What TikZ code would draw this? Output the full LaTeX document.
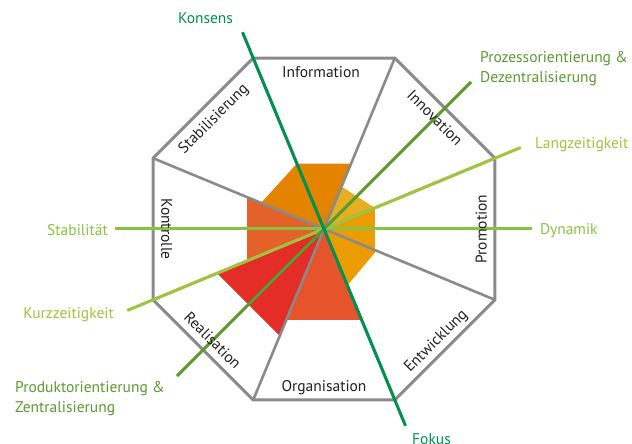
\documentclass[tikz,border=0pt]{standalone}
\usepackage{fontspec}
\setmainfont{PT Sans}
\definecolor{octgray}{HTML}{8A8A8D}
\definecolor{txtdark}{HTML}{231F20}
\definecolor{cInfo}{HTML}{E38300}
\definecolor{cInno}{HTML}{E6AF22}
\definecolor{cProm}{HTML}{EA9C00}
\definecolor{cOrg}{HTML}{E5542A}
\definecolor{cKont}{HTML}{E5612A}
\definecolor{cReal}{HTML}{E32D26}
\definecolor{gDark}{HTML}{00924C}
\definecolor{gMid}{HTML}{5A9A2F}
\definecolor{gLight}{HTML}{86C440}
\definecolor{gYel}{HTML}{A0C43C}
\begin{document}
\begin{tikzpicture}[x=1pt,y=1pt,
  edge/.style={draw=octgray, line width=3pt, line join=miter},
  spoke/.style={draw=octgray, line width=2.6pt},
  axis/.style={line width=3pt},
  sec/.style={font=\fontsize{15.5}{19.5}\selectfont, text=txtdark, inner sep=0pt, anchor=base},
  glab/.style={font=\fontsize{15.5}{19.5}\selectfont, inner sep=0pt},
]
\useasboundingbox (-324,-215) rectangle (308,229);
\def\R{185}
\coordinate (C) at (0,0);
\foreach \i in {0,...,7} \coordinate (v\i) at ({22.5+45*\i}:\R);
% sector fills
\fill[cInno] (C) -- (22.5:{0.298*\R}) -- (67.5:{0.248*\R}) -- cycle;
\fill[cInfo] (C) -- (67.5:{0.383*\R}) -- (112.5:{0.383*\R}) -- cycle;
\fill[cInfo] (C) -- (112.5:{0.383*\R}) -- (157.5:{0.368*\R}) -- cycle;
\fill[cKont] (C) -- (157.5:{0.45*\R}) -- (202.5:{0.45*\R}) -- cycle;
\fill[cReal] (C) -- (202.5:{0.625*\R}) -- (247.5:{0.625*\R}) -- cycle;
\fill[cOrg] (C) -- (247.5:{0.532*\R}) -- (292.5:{0.532*\R}) -- cycle;
\fill[cProm] (C) -- (292.5:{0.33*\R}) -- (337.5:{0.307*\R}) -- cycle;
\fill[cProm] (C) -- (337.5:{0.298*\R}) -- (22.5:{0.298*\R}) -- cycle;
% spokes and octagon
\foreach \i in {0,...,7} \draw[spoke] (C) -- (v\i);
\draw[edge] (v0) -- (v1) -- (v2) -- (v3) -- (v4) -- (v5) -- (v6) -- (v7) -- cycle;
% axes
\coordinate (stabE) at (180:209); \coordinate (dynE) at (0:208);
\coordinate (kurzE) at (202.5:213); \coordinate (langE) at (22.5:213);
\coordinate (prodE) at (225:208); \coordinate (prozE) at (45:208);
\coordinate (konE) at (112.5:213); \coordinate (fokE) at (292.5:213);
\draw[axis, gLight] (stabE) -- (dynE);
\draw[axis, gYel] (kurzE) -- (langE);
\draw[axis, gMid] (prodE) -- (prozE);
\draw[axis, gDark] (konE) -- (fokE);
% sector labels
\node[sec] (info) at (-3,151.7) {Information};
\node[sec, rotate=-45] (inno) at (45:151.7) {Innovation};
\node[sec, rotate=45] (stab) at (135:151.7) {Stabilisierung};
\node[sec, rotate=90] (prom) at (0:162.7) {Promotion};
\node[sec, rotate=45] (entw) at (-45:162.7) {Entwicklung};
\node[sec] (orga) at (-90:162.7) {Organisation};
\node[sec, rotate=-45] (real) at (-135:162.7) {Realisation};
\node[sec, rotate=-90] (kont) at (180:162.7) {Kontrolle};
% axis labels
\node[glab, text=gDark, anchor=base] (konsens) at (-118.5,205) {Konsens};
\node[glab, text=gDark, anchor=base west] (fokus) at (88,-215.5) {Fokus};
\node[glab, text=gLight, anchor=base east] (stabil) at (-216,-6.7) {Stabilität};
\node[glab, text=gLight, anchor=base west] (dyn) at (216,-6) {Dynamik};
\node[glab, text=gYel, anchor=base west] (lang) at (211,80) {Langzeitigkeit};
\node[glab, text=gYel, anchor=base east] (kurz) at (-210,-89.3) {Kurzzeitigkeit};
\node[glab, text=gMid, anchor=base west, align=left] (proz) at (156,146.7) {Prozessorientierung \&\\Dezentralisierung};
\node[glab, text=gMid, anchor=base west, align=left] (prod) at (-309,-183.3) {Produktorientierung \&\\Zentralisierung};
\end{tikzpicture}
\end{document}
